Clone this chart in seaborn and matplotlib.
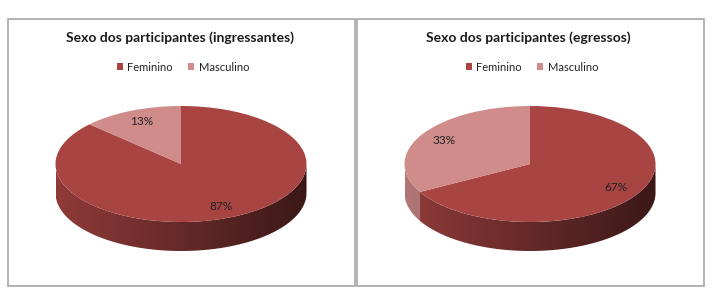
import numpy as np
import matplotlib
matplotlib.use("Agg")
import matplotlib.pyplot as plt
import matplotlib.colors as mcolors
import seaborn as sns
from matplotlib.patches import Polygon, Rectangle

# ---- data ----
categories = ["Feminino", "Masculino"]
ingressantes = [87, 13]
egressos = [67, 33]
titles = ["Sexo dos participantes (ingressantes)", "Sexo dos participantes (egressos)"]

sns.set_theme(style="white")
plt.rcParams['font.family'] = ['Lato', 'DejaVu Sans']
colors = ["#A84543", "#D08C8A"]

W, H = 720, 298
fig = plt.figure(figsize=(7.2, 2.98), dpi=100)


def fx(px):
    return px / W


def fy(py):
    return 1 - py / H


panels = [(8, 355, ingressantes, titles[0], 181, 183),
          (357, 704, egressos, titles[1], 530, 532)]
TOP, BOTTOM = 19, 286
RY, RX, CY, DEPTH = 58, 125.5, 164, 29

for (x0, x1, vals, title, cx, lgx) in panels:
    fig.patches.append(Rectangle((fx(x0), fy(BOTTOM)), (x1 - x0) / W, (BOTTOM - TOP) / H,
                                 transform=fig.transFigure, fill=False,
                                 edgecolor="#a6a6a6", lw=1.2))
    pc = (x0 + x1) / 2
    fig.text(fx(pc - 2), fy(38), title, ha='center', va='center', fontsize=10,
             fontweight='bold', color='#1a1a1a')
    d = DEPTH / RY
    ax = fig.add_axes([fx(cx - RX), fy(CY + RY + DEPTH), 2 * RX / W, (2 * RY + DEPTH) / H])
    wedges, texts, autotexts = ax.pie(
        vals, colors=colors, startangle=90, counterclock=False,
        autopct='%1.0f%%', pctdistance=0.8,
        wedgeprops=dict(linewidth=0),
        textprops=dict(fontsize=8.5, color='#222222'))
    ax.set_aspect('auto')
    ax.set_xlim(-1, 1)
    ax.set_ylim(-1 - d, 1)
    ax.axis('off')
    # side of the 3D pie, shaded darker to the right
    xs = np.linspace(-1, 1, 400)
    shade = 0.6 - 0.25 * xs
    for w, col in zip(wedges, colors):
        rgb = np.array(mcolors.to_rgb(col))
        grad = np.clip(rgb[None, None, :] * shade[None, :, None], 0, 1)
        for k in range(-2, 2):
            lo = max(w.theta1, 180 + 360 * k)
            hi = min(w.theta2, 360 + 360 * k)
            if hi <= lo:
                continue
            ts = np.radians(np.linspace(lo, hi, 200))
            upper = np.column_stack([np.cos(ts), np.sin(ts)])
            lower = np.column_stack([np.cos(ts[::-1]), np.sin(ts[::-1]) - d])
            poly = Polygon(np.vstack([upper, lower]), closed=True,
                           facecolor='none', edgecolor='none')
            ax.add_patch(poly)
            im = ax.imshow(grad, extent=[-1, 1, -1 - d, 1], aspect='auto',
                           interpolation='bilinear', zorder=0.5)
            im.set_clip_path(poly)
    ax.set_xlim(-1, 1)
    ax.set_ylim(-1 - d, 1)
    fig.legend(wedges, categories, loc='center', bbox_to_anchor=(fx(lgx), fy(67)),
               bbox_transform=fig.transFigure, ncol=2, frameon=False,
               handlelength=0.55, handleheight=0.55, handletextpad=0.4,
               columnspacing=1.4, fontsize=8, labelcolor='#222222')

fig.savefig("out.png", dpi=100)
